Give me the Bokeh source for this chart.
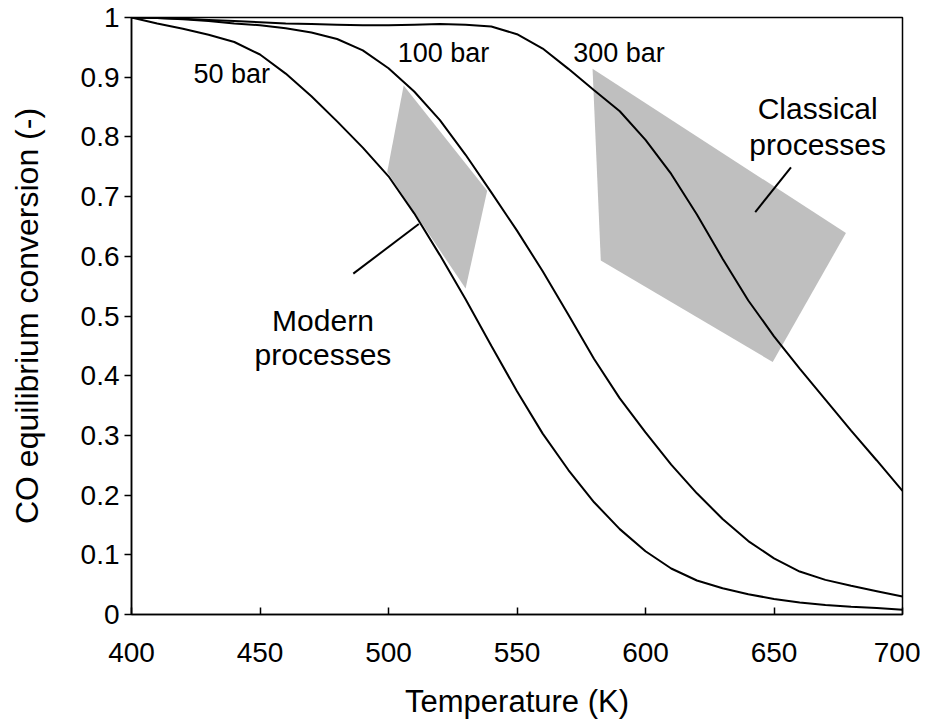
from bokeh.plotting import figure
from bokeh.models import Range1d, FixedTicker, NumeralTickFormatter
from bokeh.embed import file_html
from bokeh.resources import INLINE
from bokeh.core.properties import value

# ---- data ----
temperature = [400, 410, 420, 430, 440, 450, 460, 470, 480, 490, 500, 510, 520, 530, 540,
               550, 560, 570, 580, 590, 600, 610, 620, 630, 640, 650, 660, 670, 680, 690, 700]
conv_50bar = [1.000, 0.990, 0.981, 0.971, 0.959, 0.938, 0.906, 0.868, 0.826, 0.782, 0.734,
              0.672, 0.602, 0.528, 0.450, 0.374, 0.303, 0.242, 0.188, 0.143, 0.106, 0.077,
              0.057, 0.044, 0.034, 0.026, 0.020, 0.016, 0.013, 0.011, 0.008]
conv_100bar = [1.000, 0.999, 0.997, 0.994, 0.990, 0.987, 0.982, 0.975, 0.964, 0.945, 0.915,
               0.876, 0.828, 0.770, 0.707, 0.643, 0.575, 0.502, 0.428, 0.362, 0.305, 0.251,
               0.203, 0.160, 0.123, 0.094, 0.072, 0.058, 0.048, 0.039, 0.030]
conv_300bar = [1.000, 0.999, 0.998, 0.996, 0.994, 0.992, 0.990, 0.989, 0.988, 0.987, 0.987,
               0.988, 0.989, 0.988, 0.985, 0.972, 0.948, 0.914, 0.878, 0.843, 0.795, 0.738,
               0.670, 0.596, 0.526, 0.466, 0.412, 0.360, 0.308, 0.258, 0.207]

modern_T = [505.9, 538.4, 530.0, 499.5]
modern_X = [0.886, 0.710, 0.546, 0.741]
classical_T = [579.4, 678.0, 649.5, 582.6]
classical_X = [0.914, 0.639, 0.423, 0.593]

modern_pointer_T = [486.3, 511.8]
modern_pointer_X = [0.571, 0.654]
classical_pointer_T = [642.7, 656.6]
classical_pointer_X = [0.674, 0.749]

bar_labels = ["50 bar", "100 bar", "300 bar"]
bar_label_T = [439.0, 521.4, 589.7]
bar_label_X = [0.905, 0.940, 0.940]

process_labels = ["Classical", "processes", "Modern", "processes"]
process_label_T = [667.0, 667.0, 474.5, 474.5]
process_label_X = [0.848, 0.787, 0.492, 0.436]

x_ticks = [400, 450, 500, 550, 600, 650, 700]
y_ticks = [0, 0.1, 0.2, 0.3, 0.4, 0.5, 0.6, 0.7, 0.8, 0.9, 1]
y_tick_labels = ["0", "0.1", "0.2", "0.3", "0.4", "0.5", "0.6", "0.7", "0.8", "0.9", "1"]

FONT = "Liberation Sans"

p = figure(frame_width=771, frame_height=597, x_range=Range1d(400, 700), y_range=Range1d(0, 1),
           output_backend="svg", toolbar_location=None,
           min_border_left=131, min_border_right=18, min_border_top=17, min_border_bottom=60)
p.xgrid.visible = False
p.ygrid.visible = False
p.background_fill_color = "white"
p.border_fill_color = "white"
p.outline_line_color = "black"
p.outline_line_width = 1.5
p.outline_line_alpha = 1.0

p.xaxis.ticker = FixedTicker(ticks=x_ticks)
p.yaxis.ticker = FixedTicker(ticks=y_ticks)
p.yaxis.formatter = NumeralTickFormatter(format="0.[0]")
p.yaxis.major_label_overrides = {t: l for t, l in zip(y_ticks, y_tick_labels)}

for ax in (p.xaxis, p.yaxis):
    ax.axis_line_color = "black"
    ax.axis_line_width = 1.5
    ax.major_tick_line_color = "black"
    ax.major_tick_line_width = 1.5
    ax.minor_tick_line_color = None
    ax.major_label_text_font = FONT
    ax.major_label_text_font_size = "28px"
    ax.major_label_text_color = "black"
    ax.axis_label_text_font = FONT
    ax.axis_label_text_font_style = "normal"
    ax.axis_label_text_color = "black"

p.xaxis.major_tick_in = 7
p.xaxis.major_tick_out = 0
p.xaxis.major_label_standoff = 28
p.xaxis.axis_label = "Temperature (K)"
p.xaxis.axis_label_text_font_size = "31px"
p.xaxis.axis_label_standoff = 19

p.yaxis.major_tick_in = 0
p.yaxis.major_tick_out = 7
p.yaxis.major_label_standoff = 5
p.yaxis.axis_label = "CO equilibrium conversion (-)"
p.yaxis.axis_label_text_font_size = "32px"
p.yaxis.axis_label_standoff = 33

gray = "#bfbfbf"
p.patch(modern_T, modern_X, fill_color=gray, line_color=None)
p.patch(classical_T, classical_X, fill_color=gray, line_color=None)

for series in (conv_50bar, conv_100bar, conv_300bar):
    p.line(temperature, series, line_color="black", line_width=2)

p.line(modern_pointer_T, modern_pointer_X, line_color="black", line_width=2)
p.line(classical_pointer_T, classical_pointer_X, line_color="black", line_width=2)

p.text(x=bar_label_T, y=bar_label_X, text=bar_labels, text_font=value(FONT),
       text_font_size=value("27px"), text_align="center", text_baseline="alphabetic",
       text_color="black")
p.text(x=process_label_T, y=process_label_X, text=process_labels, text_font=value(FONT),
       text_font_size=value("30px"), text_align="center", text_baseline="alphabetic",
       text_color="black")

with open("out.html", "w") as f:
    f.write(file_html(p, INLINE))
